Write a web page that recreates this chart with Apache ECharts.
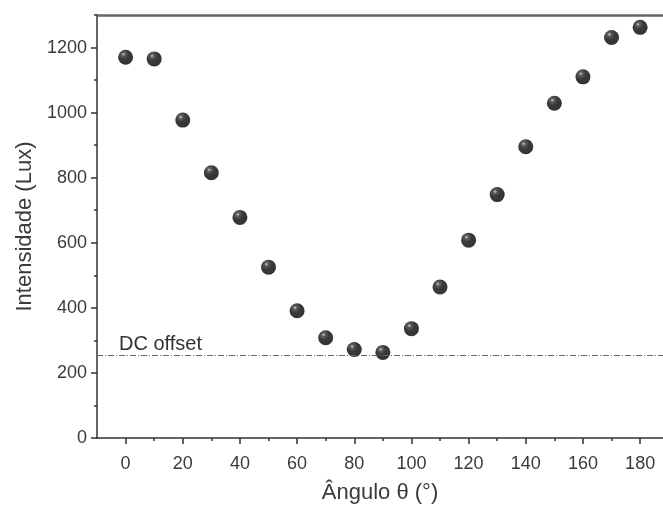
<!DOCTYPE html>
<html>
<head>
<meta charset="utf-8">
<script src="https://cdn.jsdelivr.net/npm/echarts@6/dist/echarts.min.js"></script>
<style>
  html, body { margin: 0; padding: 0; background: #fff; }
  #chart { width: 663px; height: 509px; }
</style>
</head>
<body>
<div id="chart"></div>
<script>
// angles (degrees) and measured intensity (lux)
const angles = [0, 10, 20, 30, 40, 50, 60, 70, 80, 90, 100, 110, 120, 130, 140, 150, 160, 170, 180];
const intensity = [1170, 1165, 977, 815, 678, 525, 391, 308, 272, 263, 336, 464, 608, 748, 895, 1029, 1110, 1231, 1262];
const dcOffset = 255;
const xMajorTicks = [0, 20, 40, 60, 80, 100, 120, 140, 160, 180];
const xMinorTicks = [10, 30, 50, 70, 90, 110, 130, 150, 170];
const yMajorTicks = [0, 200, 400, 600, 800, 1000, 1200];
const yMinorTicks = [100, 300, 500, 700, 900, 1100, 1300];

const font = "Liberation Sans, Arial, sans-serif";
const axisColor = "#333";
const textColor = "#3a3a3a";

const chart = echarts.init(document.getElementById("chart"));

// black ball with a small highlight, top left
const sphere = {
  type: "radial",
  x: 0.36,
  y: 0.3,
  r: 0.75,
  colorStops: [
    { offset: 0, color: "#cfcfcf" },
    { offset: 0.15, color: "#3a3a3a" },
    { offset: 0.45, color: "#080808" },
    { offset: 1, color: "#000" },
  ],
};

chart.setOption({
  backgroundColor: "#fff",
  animation: false,
  grid: { left: 97, top: 15, right: 0, bottom: 69 },
  xAxis: [
    {
      type: "value",
      min: -10,
      max: 188,
      name: "Ângulo θ (°)",
      nameLocation: "middle",
      nameGap: 44,
      nameTextStyle: { fontFamily: font, fontSize: 22, color: textColor },
      axisLine: { show: true, onZero: false, lineStyle: { color: axisColor, width: 1.5 } },
      axisTick: {
        show: true,
        customValues: xMajorTicks,
        length: 6,
        lineStyle: { color: axisColor, width: 1.5 },
      },
      axisLabel: {
        customValues: xMajorTicks,
        margin: 17,
        fontFamily: font,
        fontSize: 18,
        color: textColor,
        formatter: (v) => String(v),
      },
      splitLine: { show: false },
    },
    {
      // minor ticks on the bottom axis
      type: "value",
      position: "bottom",
      min: -10,
      max: 188,
      axisLine: { show: false, onZero: false },
      axisTick: {
        show: true,
        customValues: xMinorTicks,
        length: 3,
        lineStyle: { color: axisColor, width: 1.5 },
      },
      axisLabel: { show: false },
      splitLine: { show: false },
    },
    {
      // frame line on top
      type: "value",
      position: "top",
      min: -10,
      max: 188,
      axisLine: { show: true, onZero: false, lineStyle: { color: "#666", width: 2.5 } },
      axisTick: { show: false },
      axisLabel: { show: false },
      splitLine: { show: false },
    },
  ],
  yAxis: [
    {
      type: "value",
      min: 0,
      max: 1300,
      name: "Intensidade (Lux)",
      nameLocation: "middle",
      nameGap: 61,
      nameTextStyle: { fontFamily: font, fontSize: 22, color: textColor },
      axisLine: { show: true, onZero: false, lineStyle: { color: axisColor, width: 1.5 } },
      axisTick: {
        show: true,
        customValues: yMajorTicks,
        length: 6,
        lineStyle: { color: axisColor, width: 1.5 },
      },
      axisLabel: {
        customValues: yMajorTicks,
        margin: 10,
        fontFamily: font,
        fontSize: 18,
        color: textColor,
        formatter: (v) => String(v),
      },
      splitLine: { show: false },
    },
    {
      type: "value",
      position: "left",
      min: 0,
      max: 1300,
      axisLine: { show: false, onZero: false },
      axisTick: {
        show: true,
        customValues: yMinorTicks,
        length: 3,
        lineStyle: { color: axisColor, width: 1.5 },
      },
      axisLabel: { show: false },
      splitLine: { show: false },
    },
  ],
  series: [
    {
      type: "scatter",
      data: angles.map((a, i) => [a, intensity[i]]),
      symbol: "circle",
      symbolSize: 15,
      itemStyle: { color: sphere },
      markLine: {
        silent: true,
        symbol: "none",
        lineStyle: { color: "#666", type: [6, 2, 1, 2], width: 1.2 },
        label: {
          show: true,
          position: "insideStartTop",
          formatter: "DC offset",
          fontFamily: font,
          fontSize: 20,
          color: "#333",
          distance: [22, 1],
        },
        data: [{ yAxis: dcOffset }],
      },
    },
  ],
});
</script>
</body>
</html>
